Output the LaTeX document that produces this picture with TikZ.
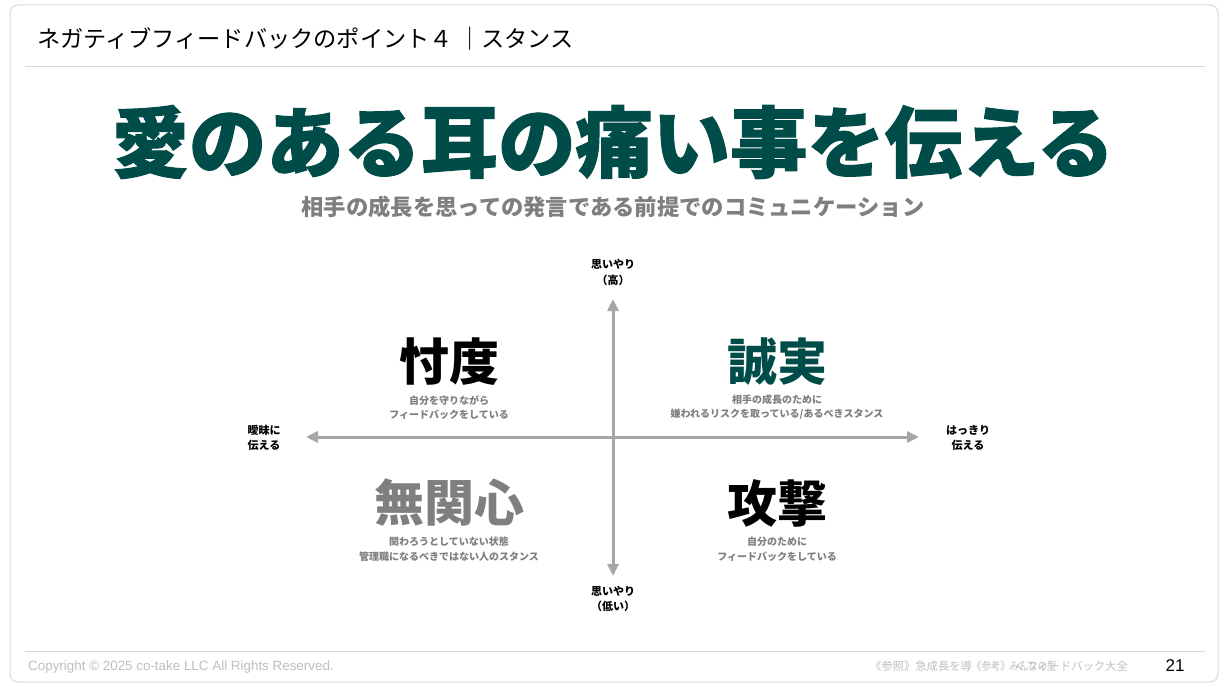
\documentclass[tikz,border=0pt]{standalone}
\usepackage{fontspec}
\setmainfont{Liberation Sans}
\newfontfamily\jp{Noto Sans CJK JP}
\newfontfamily\jpheavy{Noto Sans CJK JP}[BoldFeatures={FakeBold=1.3}]
\usetikzlibrary{arrows.meta}
\definecolor{teal1}{RGB}{0,76,72}
\definecolor{gray1}{RGB}{127,127,127}
\definecolor{axisgray}{RGB}{166,166,166}
\definecolor{linegray}{RGB}{217,217,217}
\definecolor{footgray}{RGB}{191,191,191}
\tikzset{
  axisline/.style={draw=axisgray, line width=3pt, {Triangle[length=12pt,width=11pt]}-{Triangle[length=12pt,width=11pt]}},
  axislabel/.style={inner sep=0, align=center, font={\jp\bfseries\fontsize{11}{15.5}\selectfont}},
  bigword/.style={inner sep=0, font={\jp\bfseries\fontsize{50}{50}\selectfont}},
  subtext/.style={inner sep=0, align=center, text=gray1, font={\jp\bfseries\fontsize{10}{14}\selectfont}},
  reftext/.style={inner sep=0, text=footgray, font={\jp\fontsize{11.3}{11.3}\selectfont}},
  rule/.style={draw=linegray, line width=1pt}
}
\begin{document}
\begin{tikzpicture}[x=1pt,y=-1pt]
\useasboundingbox (0,0) rectangle (1225,687);
\fill[white] (0,0) rectangle (1225,687);
\draw[draw=linegray, line width=1pt, rounded corners=8pt] (10,5) rectangle (1218,682);
% header
\node[anchor=west, inner sep=0, font={\jp\fontsize{23.2}{23.2}\selectfont}] (title) at (37,39) {ネガティブフィードバックのポイント４ ｜スタンス};
\coordinate (hl1) at (25,67); \coordinate (hl2) at (1205,67);
\draw[rule] (hl1) -- (hl2);
% heading
\node[inner sep=0, text=teal1, font={\jpheavy\bfseries\fontsize{77.3}{77.3}\selectfont}] (head) at (613,142) {愛のある耳の痛い事を伝える};
\node[inner sep=0, text=gray1, font={\jp\bfseries\fontsize{22.3}{22.3}\selectfont}] (sub) at (613,207) {相手の成長を思っての発言である前提でのコミュニケーション};
% axes
\coordinate (vt) at (613,299); \coordinate (vb) at (613,576);
\coordinate (hlft) at (306,437); \coordinate (hrt) at (919,437);
\draw[axisline] (vt) -- (vb);
\draw[axisline] (hlft) -- (hrt);
\node[axislabel] (top) at (613,272.5) {思いやり\\（高）};
\node[axislabel] (bot) at (613,599) {思いやり\\（低い）};
\node[axislabel] (lft) at (264,438) {曖昧に\\伝える};
\node[axislabel] (rgt) at (968,438) {はっきり\\伝える};
% quadrants
\node[bigword] (q1) at (449,362) {忖度};
\node[subtext] (q1s) at (449,407.5) {自分を守りながら\\フィードバックをしている};
\node[bigword, text=teal1] (q2) at (777,362) {誠実};
\node[subtext] (q2s) at (777,407.5) {相手の成長のために\\嫌われるリスクを取っている/あるべきスタンス};
\node[bigword, text=gray1] (q3) at (449,503) {無関心};
\node[subtext, font={\jp\bfseries\fontsize{10}{15}\selectfont}] (q3s) at (449,549.5) {関わろうとしていない状態\\管理職になるべきではない人のスタンス};
\node[bigword] (q4) at (777,503) {攻撃};
\node[subtext, font={\jp\bfseries\fontsize{10}{15}\selectfont}] (q4s) at (777,549.5) {自分のために\\フィードバックをしている};
% footer
\coordinate (fl1) at (25,651); \coordinate (fl2) at (1205,651);
\draw[rule] (fl1) -- (fl2);
\node[anchor=west, inner sep=0, text=footgray, font={\fontsize{13.4}{13.4}\selectfont}] (copy) at (28,667) {Copyright © 2025 co-take LLC All Rights Reserved.};
\node[reftext, anchor=west] (ref1) at (870,666) {《参照》急成長を導};
\node[reftext, anchor=east] (ref2) at (1128,666) {くフィードバック大全};
\node[reftext, anchor=west, xscale=0.83] (ref3) at (972,666) {《参考》みんなの型};
\node[inner sep=0, font={\fontsize{17}{17}\selectfont}] (pg) at (1175,666) {21};
\end{tikzpicture}
\end{document}
